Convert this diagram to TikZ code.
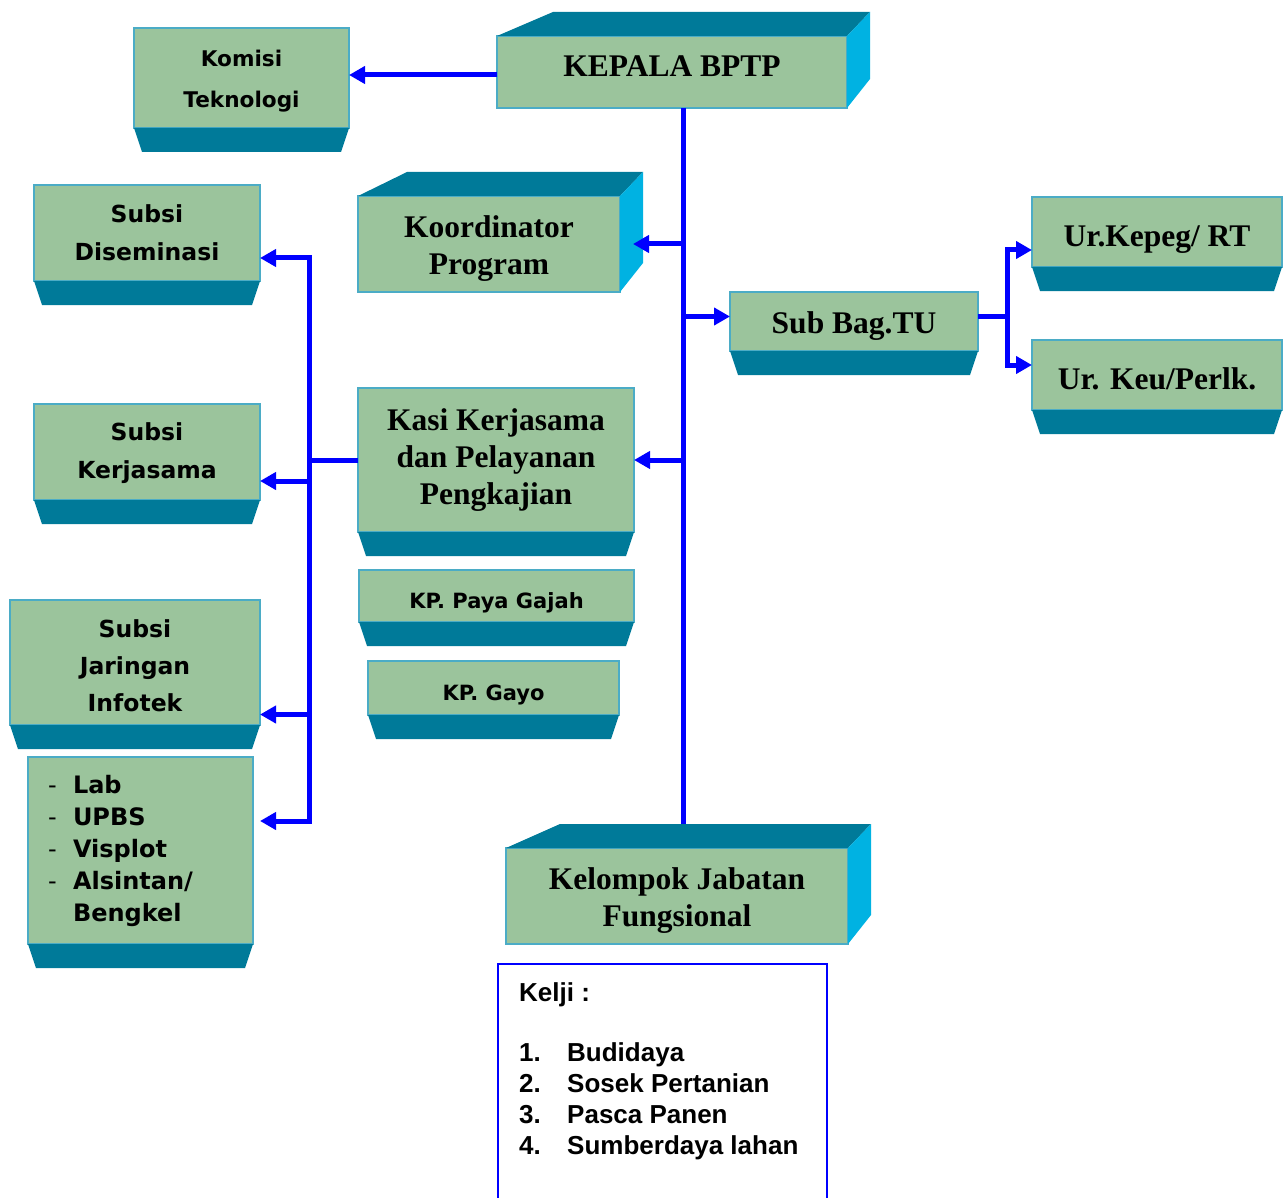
\documentclass[tikz,border=0pt]{standalone}
\usepackage{fontspec}
\usetikzlibrary{arrows.meta,calc}
\newfontfamily\romfont{Liberation Serif}
\newfontfamily\tahfont{DejaVu Sans}
\newfontfamily\arfont{Liberation Sans}
\definecolor{facegreen}{RGB}{155,196,156}
\definecolor{faceedge}{RGB}{75,172,198}
\definecolor{baseteal}{RGB}{0,122,153}
\definecolor{sidecyan}{RGB}{0,178,226}
\definecolor{linkblue}{RGB}{0,0,255}

% dark slab under a box
\newcommand{\slab}[1]{%
  \fill[baseteal] (#1.south west) -- (#1.south east) -- ($(#1.south east)+(-8,24)$)
    -- ($(#1.south west)+(8,24)$) -- cycle;}
% top face and side face of a raised box (#2 = shift of the back left corner)
\newcommand{\lid}[2]{%
  \fill[baseteal] (#1.north west) -- ($(#1.north west)+(#2,-24)$)
    -- ($(#1.north east)+(23,-24)$) -- (#1.north east) -- cycle;
  \fill[sidecyan] (#1.north east) -- ($(#1.north east)+(23,-24)$)
    -- ($(#1.south east)+(23,-29)$) -- (#1.south east) -- cycle;}
\newcommand{\labitem}[1]{\makebox[25pt][l]{\mdseries -}#1}
% invisible strut to push a text block down
\newcommand{\dropby}[1]{\rule{0pt}{#1}}

\begin{document}
\begin{tikzpicture}[x=1pt,y=-1pt,
    unit/.style={draw=faceedge, line width=2pt, fill=facegreen, outer sep=0pt,
      inner sep=0pt, align=center},
    serifunit/.style={unit, font=\romfont\bfseries\fontsize{31.5}{37}\selectfont},
    sansunit/.style={unit, font=\tahfont\bfseries\fontsize{23.5}{38}\selectfont},
    kpunit/.style={sansunit, font=\tahfont\bfseries\fontsize{21}{38}\selectfont},
    link/.style={draw=linkblue, line width=5pt},
    linkto/.style={link, -{Triangle[length=16pt,width=17pt]}}]
\useasboundingbox (0,0) rectangle (1287,1198);

% boxes
\node[serifunit, minimum width=350pt, minimum height=72pt, text depth=12pt] (kepala) at (672,72) {KEPALA BPTP};
\node[sansunit, font=\tahfont\bfseries\fontsize{21.6}{41}\selectfont,
  minimum width=215pt, minimum height=100pt] (komisi) at (241.5,78) {\dropby{22.5pt}Komisi\\Teknologi};
\node[serifunit, minimum width=262pt, minimum height=96pt] (koor) at (489,244) {\dropby{31.5pt}Koordinator\\Program};
\node[serifunit, minimum width=248pt, minimum height=59pt] (subbag) at (854,321.5) {\dropby{30pt}Sub Bag.TU};
\node[serifunit, minimum width=250pt, minimum height=70pt] (kepeg) at (1157,232) {\dropby{36pt}Ur.Kepeg/ RT};
\node[serifunit, minimum width=250pt, minimum height=70pt] (keu) at (1157,375) {\dropby{30pt}Ur. Keu/Perlk.};
\node[sansunit, minimum width=226pt, minimum height=96pt] (disem) at (147,233) {Subsi\\Diseminasi};
\node[sansunit, minimum width=226pt, minimum height=96pt] (kerja) at (147,452) {\dropby{21pt}Subsi\\Kerjasama};
\node[sansunit, font=\tahfont\bfseries\fontsize{23.5}{37}\selectfont,
  minimum width=250pt, minimum height=125pt] (infotek) at (135,662.5) {\dropby{24pt}Subsi\\Jaringan\\Infotek};
\node[sansunit, font=\tahfont\bfseries\fontsize{24}{32}\selectfont, align=left,
  inner xsep=20pt, text width=185pt, minimum height=187pt] (lab) at (140.5,850.5)
  {\labitem{Lab}\\\labitem{UPBS}\\\labitem{Visplot}\\\labitem{Alsintan/}\\\hspace*{25pt}Bengkel};
\node[serifunit, minimum width=276pt, minimum height=144pt] (kasi) at (496,460)
  {Kasi Kerjasama\\dan Pelayanan\\Pengkajian};
\node[kpunit, minimum width=275pt, minimum height=52pt] (paya) at (496.5,596) {\dropby{30pt}KP. Paya Gajah};
\node[kpunit, minimum width=251pt, minimum height=54pt] (gayo) at (493.5,688) {\dropby{30pt}KP. Gayo};
\node[serifunit, minimum width=342pt, minimum height=96pt] (kjf) at (677,896)
  {\dropby{31.5pt}Kelompok Jabatan\\Fungsional};

\foreach \b in {komisi,subbag,kepeg,keu,disem,kerja,infotek,lab,kasi,paya,gayo}
  {\slab{\b}}

% main line
\coordinate (trunk) at ([xshift=11pt]kepala.south);
\coordinate (kjfback) at ($(kjf.north west)+(54,-24)$);
\draw[link] (trunk) -- (trunk |- kjfback);
\lid{kepala}{56}
\lid{koor}{49}
\lid{kjf}{54}

% branches
\draw[linkto] ([yshift=-3pt]kepala.west) -- ([yshift=-3pt]kepala.west -| komisi.east);
\draw[linkto] (trunk |- koor.east) -- ([xshift=13pt]koor.east);
\coordinate (tuin) at ([yshift=5pt]subbag.west);
\draw[linkto] (trunk |- tuin) -- (tuin);
\draw[linkto] (trunk |- kasi.east) -- (kasi.east);

\coordinate (tufork) at ($([yshift=5pt]subbag.east)+(29,0)$);
\draw[link] ([yshift=5pt]subbag.east) -- (tufork);
\draw[linkto] (tufork) |- ([yshift=-18pt]kepeg.west);
\draw[linkto] (tufork) |- ([yshift=10pt]keu.west);

\coordinate (bus) at ($(kasi.west)+(-49,0)$);
\draw[link] (kasi.west) -- (bus);
\draw[linkto] (bus) |- ([yshift=-25pt]disem.east);
\draw[linkto] (bus) |- ([yshift=-29pt]kerja.east);
\draw[linkto] (bus) |- ([yshift=-52pt]infotek.east);
\draw[linkto] (bus) |- ([xshift=7pt,yshift=29.5pt]lab.east);

% Kelji list
\draw[linkblue, line width=2pt] (498,1198) -- (498,964) -- (827,964) -- (827,1198);
\node[anchor=north west, inner sep=0pt, align=left,
  font=\arfont\bfseries\fontsize{26}{31}\selectfont] (kelji) at (519,982)
  {Kelji :\\[29pt]
   \makebox[48pt][l]{1.}Budidaya\\
   \makebox[48pt][l]{2.}Sosek Pertanian\\
   \makebox[48pt][l]{3.}Pasca Panen\\
   \makebox[48pt][l]{4.}Sumberdaya lahan};
\end{tikzpicture}
\end{document}
